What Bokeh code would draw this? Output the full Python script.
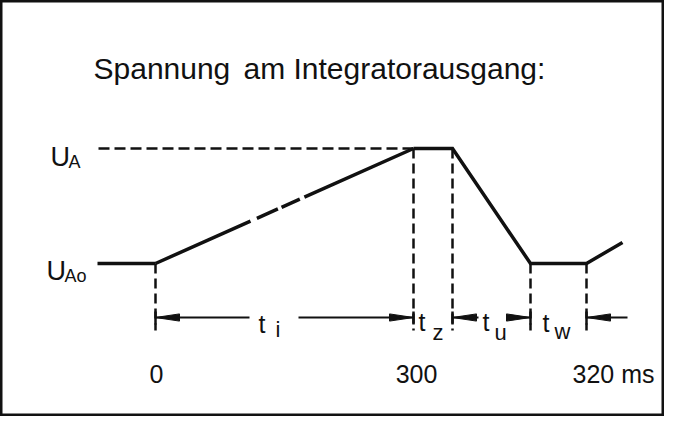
from bokeh.plotting import figure
from bokeh.models import Range1d
from bokeh.core.properties import value
from bokeh.embed import file_html
from bokeh.resources import INLINE

# ---------------- data (schematic drawing units) ----------------
# x: position along the (not-to-scale) time axis, y: output voltage level (0 = U_Ao, 1 = U_A)
curve_x = [-58, 0, 258, 297, 375, 431, 467]
curve_y = [0, 0, 1, 1, 0, 0, 0.183]
mark_x = [0, 258, 297, 375, 431]          # instants with extension lines
mark_top = [0, 1, 1, 0, 0]
level_y = [1, 0]
level_main = ["U", "U"]
level_sub = ["A", "Ao"]
interval_main = ["t", "t", "t", "t"]
interval_sub = ["i", "z", "u", "w"]
tick_at = [0, 258, 431]
tick_labels = ["0", "300", "320 ms"]
title_parts = ["Spannung", "am Integratorausgang:"]

# ---------------- layout ----------------
W, H = 664, 416
X0 = 155          # canvas px of x = 0
Y0 = 263          # canvas px (from top) of y = 0
SY = 115          # px per voltage unit


def dx(ref):
    return ref - X0


def dy(ref):
    return (Y0 - ref) / SY


p = figure(width=W, height=H, output_backend="svg", toolbar_location=None,
           x_range=Range1d(-X0, W - X0), y_range=Range1d(-(H - Y0) / SY, Y0 / SY),
           x_axis_type=None, y_axis_type=None, min_border=0)
p.grid.visible = False
p.background_fill_color = "white"
p.border_fill_color = "white"
p.outline_line_color = "#111111"
p.outline_line_width = 4

INK = "#111111"
FONT = value("Liberation Sans")


def txt(x, y, s, size, align="left"):
    p.text(x=[x], y=[y], text=[s], text_font=FONT, text_font_size=f"{size}px",
           text_color=INK, text_align=align, text_baseline="alphabetic")


# curve
p.line(curve_x[0:2], curve_y[0:2], line_width=3.5, line_color=INK)
p.line(curve_x[1:3], curve_y[1:3], line_width=3.5, line_color=INK,
       line_dash="104 7 23 4 20 5 300")
p.line(curve_x[2:], curve_y[2:], line_width=3.5, line_color=INK, line_join="miter")

# U_A dashed reference line
p.line([curve_x[0] + 1, mark_x[1]], [level_y[0], level_y[0]], line_width=2.5,
       line_color=INK, line_dash="11 5")

# extension lines
ext_bottom = dy(330)
p.segment(x0=mark_x, y0=mark_top, x1=mark_x, y1=[ext_bottom] * len(mark_x),
          line_width=2.5, line_color=INK, line_dash="10 5")
p.segment(x0=mark_x, y0=[dy(311)] * len(mark_x), x1=mark_x, y1=[dy(324)] * len(mark_x),
          line_width=2.5, line_color=INK)

# dimension arrows
ya = dy(317)
tips = [mark_x[0], mark_x[1], mark_x[2], mark_x[3], mark_x[4]]
tails = [dx(249), dx(298), dx(478), dx(507), dx(627)]
p.segment(x0=tips, y0=[ya] * 5, x1=tails, y1=[ya] * 5, line_width=2, line_color=INK)
L, HW = 24, 3.6 / SY
xs, ys = [], []
for t, e in zip(tips, tails):
    d = 1 if e > t else -1
    xs.append([t, t + d * L, t + d * L])
    ys.append([ya, ya + HW, ya - HW])
p.patches(xs, ys, fill_color=INK, line_color=INK, line_width=1)

# title
txt(dx(93), dy(68), title_parts[0], 30)
txt(dx(243), dy(68), title_parts[1], 30)

# level labels
txt(dx(50), dy(156), level_main[0], 27)
txt(dx(68), dy(161), level_sub[0], 18)
txt(dx(46), dy(270), level_main[1], 27)
txt(dx(64), dy(275), level_sub[1], 18)

# interval labels
main_pos = [(258, 323), (418, 321), (482, 321), (542, 322)]
sub_pos = [(275, 329), (432, 332), (494, 332), (554, 331)]
for m, s, (mx, my), (sx, sy) in zip(interval_main, interval_sub, main_pos, sub_pos):
    txt(dx(mx), dy(my), m, 25)
    txt(dx(sx), dy(sy), s, 22)

# tick labels
txt(tick_at[0] + 1, dy(373), tick_labels[0], 25, "center")
txt(tick_at[1] + 3, dy(373), tick_labels[1], 25, "center")
txt(tick_at[2] - 14, dy(373), tick_labels[2], 25, "left")

open("out.html", "w").write(file_html(p, INLINE))
